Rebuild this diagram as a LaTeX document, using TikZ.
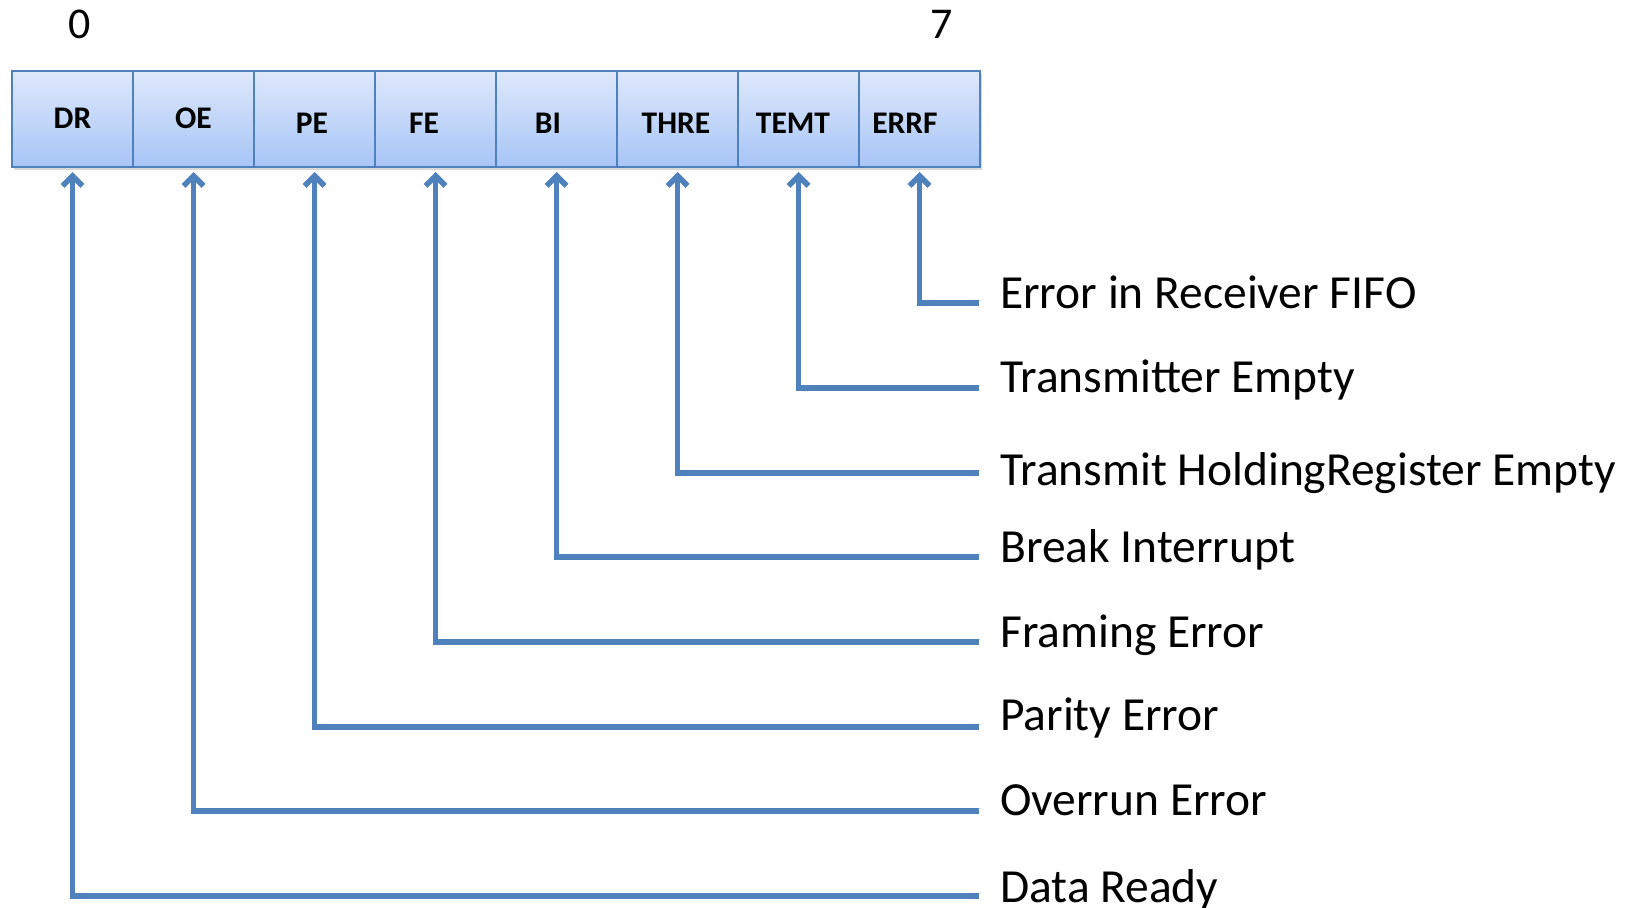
\documentclass[tikz,border=0pt]{standalone}
\usepackage{fontspec}
\setmainfont{Carlito}
\usepackage{xcolor}
\usetikzlibrary{arrows.meta,shadows}
\definecolor{lsrblue}{RGB}{79,129,189}
\definecolor{lsrtop}{RGB}{222,232,251}
\definecolor{lsrbot}{RGB}{167,197,246}

\begin{document}
\begin{tikzpicture}[x=1pt,y=-1pt,
	bitcell/.style={draw=lsrblue, line width=2pt, top color=lsrtop, bottom color=lsrbot, minimum width=121pt, minimum height=96pt, inner sep=0pt, outer sep=0pt, drop shadow={shadow xshift=2pt, shadow yshift=-3pt, opacity=0.3}},
	bitname/.style={font=\fontsize{31.5}{37}\selectfont\bfseries, anchor=base, inner sep=0pt},
	bitno/.style={font=\fontsize{44}{52}\selectfont, anchor=base, inner sep=0pt},
	flagname/.style={font=\fontsize{47.5}{56}\selectfont, anchor=base west, inner sep=0pt},
	flagline/.style={draw=lsrblue, line width=5.5pt, -{Straight Barb[length=10pt,width=20pt]}, shorten >=5pt,
		preaction={draw=black, opacity=0.12, transform canvas={shift={(1.5pt,2.5pt)}}}}]

	\useasboundingbox (0,0) rectangle (1629,907);

	\node[bitno] (no0) at (79.5,38) {0};
	\node[bitno] (no7) at (942,38) {7};

	\node[bitcell] (DR) at (72.5,119) {};
	\node[bitcell] (OE) at (193.5,119) {};
	\node[bitcell] (PE) at (314.5,119) {};
	\node[bitcell] (FE) at (435.5,119) {};
	\node[bitcell] (BI) at (556.5,119) {};
	\node[bitcell] (THRE) at (677.5,119) {};
	\node[bitcell] (TEMT) at (798.5,119) {};
	\node[bitcell] (ERRF) at (919.5,119) {};

	\node[bitname] (tDR) at (72.5,128) {DR};
	\node[bitname] (tOE) at (193.5,128) {OE};
	\node[bitname] (tPE) at (312,133) {PE};
	\node[bitname] (tFE) at (424,133) {FE};
	\node[bitname] (tBI) at (548,133) {BI};
	\node[bitname] (tTHRE) at (676,133) {THRE};
	\node[bitname] (tTEMT) at (793,133) {TEMT};
	\node[bitname] (tERRF) at (905,133) {ERRF};

	\coordinate (eERRF) at (979,303);
	\coordinate (eTEMT) at (979,388);
	\coordinate (eTHRE) at (979,473);
	\coordinate (eBI) at (979,557);
	\coordinate (eFE) at (979,642);
	\coordinate (ePE) at (979,727);
	\coordinate (eOE) at (979,811);
	\coordinate (eDR) at (979,896);

	\node[flagname] (fERRF) at (1000,308) {Error in Receiver FIFO};
	\node[flagname] (fTEMT) at (1000,392) {Transmitter Empty};
	\node[flagname] (fTHRE) at (1000,485) {Transmit HoldingRegister Empty};
	\node[flagname] (fBI) at (1000,562) {Break Interrupt};
	\node[flagname] (fFE) at (1000,647) {Framing Error};
	\node[flagname] (fPE) at (1000,730) {Parity Error};
	\node[flagname] (fOE) at (1000,815) {Overrun Error};
	\node[flagname] (fDR) at (1000,902) {Data Ready};

	\draw[flagline] (eERRF) -| (ERRF.south);
	\draw[flagline] (eTEMT) -| (TEMT.south);
	\draw[flagline] (eTHRE) -| (THRE.south);
	\draw[flagline] (eBI) -| (BI.south);
	\draw[flagline] (eFE) -| (FE.south);
	\draw[flagline] (ePE) -| (PE.south);
	\draw[flagline] (eOE) -| (OE.south);
	\draw[flagline] (eDR) -| (DR.south);
\end{tikzpicture}
\end{document}
